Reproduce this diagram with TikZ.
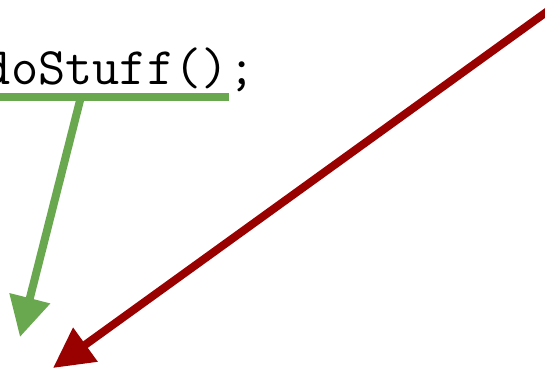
\documentclass[tikz,border=0pt]{standalone}
\usetikzlibrary{arrows.meta}
\definecolor{gdgreen}{HTML}{6AA84F}
\definecolor{gdred}{HTML}{990000}
\tikzset{
  codetext/.style={anchor=base west, inner sep=0pt, font=\fontsize{52.8}{60}\selectfont\ttfamily},
  greenline/.style={draw=gdgreen, line width=8pt},
  greenarrow/.style={draw=gdgreen, line width=8pt, -{Triangle[length=40pt,width=40pt]}},
  redarrow/.style={draw=gdred, line width=8pt, -{Triangle[length=40pt,width=40pt]}}
}
\begin{document}
\begin{tikzpicture}[x=1pt,y=-1pt]
\path[use as bounding box] (0,0) rectangle (545,369);
\clip (0,0) rectangle (545,369);
\node[codetext] (code) at (-16.3,84) {doStuff();};
\coordinate (u1) at (-10,96.5);
\coordinate (u2) at (229,96.5);
\coordinate (g1) at (81,96.5);
\coordinate (g2) at (20,337);
\coordinate (r1) at (570,-5);
\coordinate (r2) at (53,368);
\draw[greenline] (u1) -- (u2);
\draw[greenarrow] (g1) -- (g2);
\draw[redarrow] (r1) -- (r2);
\end{tikzpicture}
\end{document}
